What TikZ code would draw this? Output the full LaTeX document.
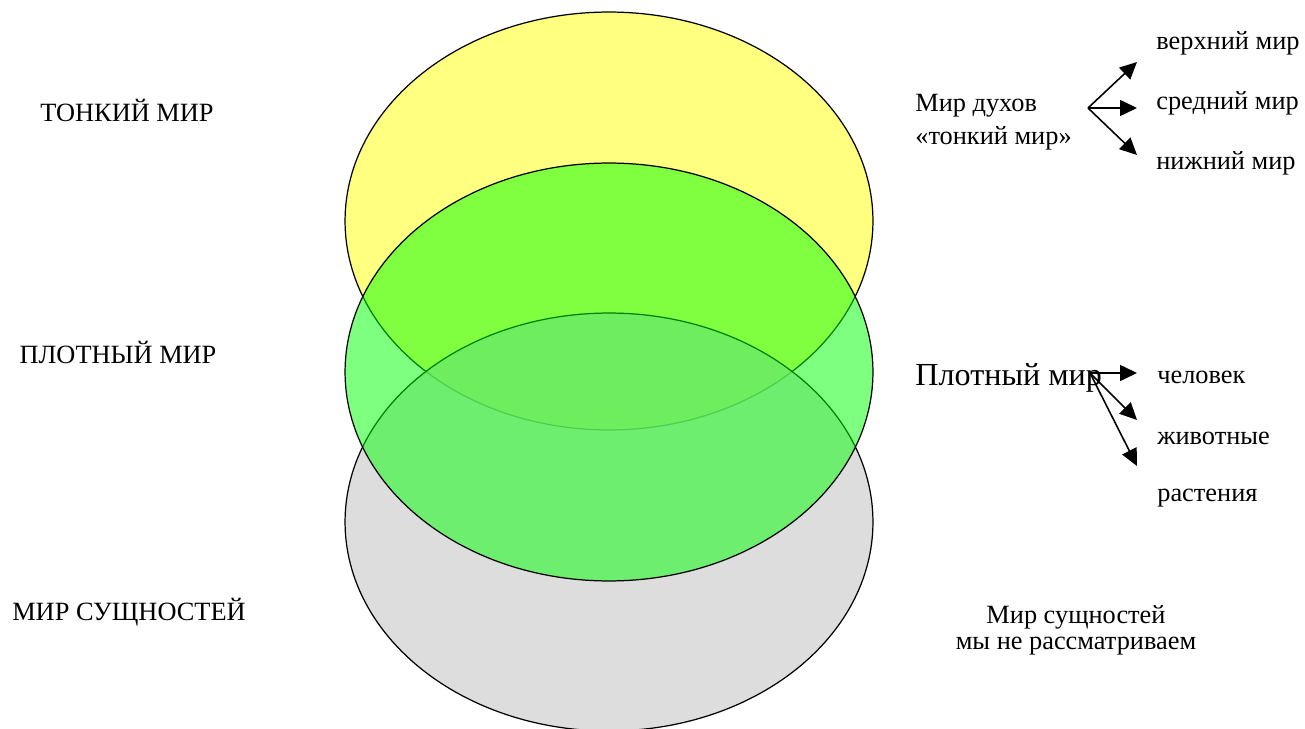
\documentclass[tikz,border=0pt]{standalone}
\usepackage{fontspec}
\setmainfont{Liberation Serif}
\usetikzlibrary{arrows.meta,positioning}
\definecolor{paleyellow}{RGB}{255,255,128}
\definecolor{lightgray}{RGB}{210,210,210}
\definecolor{brightgreen}{RGB}{0,255,0}
\tikzset{
  ray/.style={-{Triangle[length=0.34cm,width=0.32cm]}, line width=0.9pt},
  lbl/.style={font=\fontsize{15}{18.5}\selectfont, inner sep=0pt},
  biglbl/.style={font=\fontsize{18.3}{22}\selectfont, inner sep=0pt},
  world/.style={draw=black, line width=0.7pt},
}

\begin{document}
\begin{tikzpicture}[x=0.02cm,y=-0.02cm]
\useasboundingbox (0,0) rectangle (1305,729);
% three worlds
\filldraw[world, fill=paleyellow] (609,221) ellipse [x radius=5.28cm, y radius=4.18cm];
\filldraw[world, fill=lightgray, fill opacity=0.75] (609,522) ellipse [x radius=5.28cm, y radius=4.18cm];
\filldraw[world, fill=brightgreen, fill opacity=0.5] (609,372) ellipse [x radius=5.28cm, y radius=4.18cm];

% left labels
\node[lbl] (tonkiy) at (127,110) {ТОНКИЙ МИР};
\node[lbl] (plotnyi) at (118,352) {ПЛОТНЫЙ МИР};
\node[lbl] (sushch) at (129,612) {МИР СУЩНОСТЕЙ};

% spirits
\node[lbl, anchor=west, align=left] (dukhi) at (915,122) {Мир духов\\«тонкий мир»};
\node[lbl, anchor=west] (verkh) at (1156,43) {верхний мир};
\node[lbl, anchor=west] (sred) at (1156,103) {средний мир};
\node[lbl, anchor=west] (nizh) at (1156,163) {нижний мир};
\coordinate (dfork) at (1088,108);
\coordinate (dup) at (1137,62);
\coordinate (dmid) at (1137,108);
\coordinate (ddown) at (1137,155);
\draw[ray] (dfork) -- (dup);
\draw[ray] (dfork) -- (dmid);
\draw[ray] (dfork) -- (ddown);

% dense world
\node[biglbl, anchor=west] (plot) at (915,378) {Плотный мир};
\node[lbl, anchor=west] (chel) at (1157,377) {человек};
\node[lbl, anchor=west] (zhiv) at (1157,438) {животные};
\node[lbl, anchor=west] (rast) at (1157,498) {растения};
\coordinate (pfork) at (1090,373);
\coordinate (pone) at (1137,373);
\coordinate (ptwo) at (1137,420);
\coordinate (pthree) at (1137,466);
\draw[ray] (pfork) -- (pone);
\draw[ray] (pfork) -- (ptwo);
\draw[ray] (pfork) -- (pthree);

% essences
\node[lbl, align=center, font=\fontsize{15}{15}\selectfont] (ness) at (1076,630) {Мир сущностей\\мы не рассматриваем};
\end{tikzpicture}
\end{document}
